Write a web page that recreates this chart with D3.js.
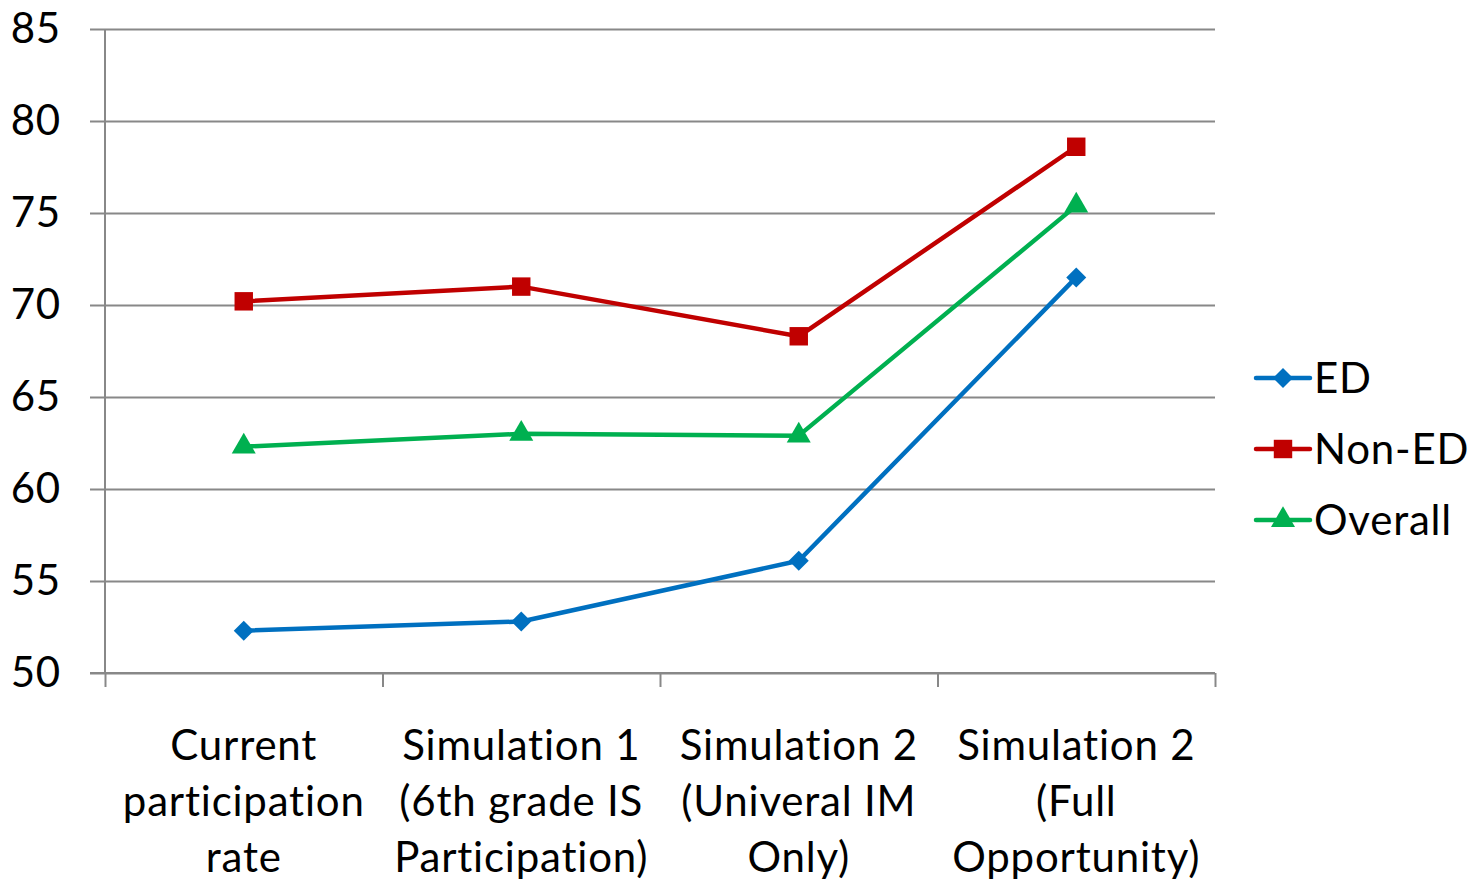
<!DOCTYPE html>
<html>
<head>
<meta charset="utf-8">
<script src="https://cdn.jsdelivr.net/npm/d3@7"></script>
<style>
  body { margin: 0; background: #fff; }
  svg text { font-family: "Gill Sans", "Gill Sans MT", Lato, "Open Sans", sans-serif; fill: #000; letter-spacing: 0.8px; }
</style>
</head>
<body>
<div id="vis_container"></div>
<script>
// chart data
var categories = [
	["Current", "participation", "rate"],
	["Simulation 1", "(6th grade IS", "Participation)"],
	["Simulation 2", "(Univeral IM", "Only)"],
	["Simulation 2", "(Full", "Opportunity)"]
];
var seriesNames = ["ED", "Non-ED", "Overall"];
var edValues = [52.3, 52.8, 56.1, 71.5];
var nonEdValues = [70.2, 71.0, 68.3, 78.6];
var overallValues = [62.3, 63.0, 62.9, 75.4];
var yTicks = [50, 55, 60, 65, 70, 75, 80, 85];

var chart = {};
chart.width = 1479;
chart.height = 884;
chart.left = 105;
chart.right = 1215;
chart.top = 29;
chart.bottom = 673;

chart.colors = ["#0070C0", "#C00000", "#00B050"];
chart.shapes = [d3.symbolSquare, d3.symbolSquare, d3.symbolTriangle];
chart.sizes = [200, 340, 250];
chart.rotate = [45, 0, 0];

var series = [edValues, nonEdValues, overallValues];

chart.svg = d3.select("#vis_container").append("svg")
	.attr("width", chart.width)
	.attr("height", chart.height);

chart.x = d3.scaleBand()
	.domain(d3.range(categories.length))
	.range([chart.left, chart.right]);

chart.y = d3.scaleLinear()
	.domain([50, 85])
	.range([chart.bottom, chart.top]);

// horizontal gridlines + left ticks
chart.svg.append("g")
	.attr("transform", "translate(" + chart.left + ",0)")
	.call(d3.axisLeft(chart.y).tickValues(yTicks).tickSize(15).tickPadding(29))
	.call(function(g) {
		g.select(".domain").remove();
		g.selectAll(".tick line").attr("x1", -15).attr("x2", chart.right - chart.left)
			.attr("stroke", "#888").attr("stroke-width", 2);
		g.selectAll(".tick text").attr("font-size", 42).attr("font-family", null);
	});

// y axis line
chart.svg.append("line")
	.attr("x1", chart.left).attr("x2", chart.left)
	.attr("y1", chart.top).attr("y2", chart.bottom)
	.attr("stroke", "#888").attr("stroke-width", 2);

// x axis with category separators
chart.svg.append("g")
	.attr("transform", "translate(0," + chart.bottom + ")")
	.call(d3.axisBottom(d3.scaleLinear().domain([0, categories.length]).range([chart.left, chart.right]))
		.tickValues(d3.range(categories.length + 1)).tickSize(14).tickFormat(""))
	.call(function(g) {
		g.select(".domain").attr("stroke", "#888").attr("stroke-width", 2).attr("d", "M" + (chart.left - 15) + ",0H" + chart.right);
		g.selectAll(".tick line").attr("stroke", "#888").attr("stroke-width", 2);
	});

// category labels
chart.svg.selectAll(".catLabel")
	.data(categories)
	.enter()
	.append("text")
		.attr("class", "catLabel")
		.attr("text-anchor", "middle")
		.attr("font-size", 42)
		.attr("transform", function(d, i) { return "translate(" + (chart.x(i) + chart.x.bandwidth() / 2) + ",760)"; })
		.selectAll("tspan")
		.data(function(d) { return d; })
		.enter()
		.append("tspan")
			.attr("x", 0)
			.attr("y", function(d, i) { return i * 56; })
			.text(function(d) { return d; });

// lines + markers
chart.line = d3.line()
	.x(function(d, i) { return chart.x(i) + chart.x.bandwidth() / 2; })
	.y(function(d) { return chart.y(d); });

series.forEach(function(vals, s) {
	chart.svg.append("path")
		.datum(vals)
		.attr("d", chart.line)
		.attr("fill", "none")
		.attr("stroke", chart.colors[s])
		.attr("stroke-width", 4.5)
		.attr("stroke-linejoin", "round");

	chart.svg.selectAll(".marker" + s)
		.data(vals)
		.enter()
		.append("path")
			.attr("class", "marker" + s)
			.attr("d", d3.symbol().type(chart.shapes[s]).size(chart.sizes[s]))
			.attr("transform", function(d, i) { return "translate(" + (chart.x(i) + chart.x.bandwidth() / 2) + "," + chart.y(d) + ") rotate(" + chart.rotate[s] + ")"; })
			.attr("fill", chart.colors[s]);
});

// legend
chart.legend = chart.svg.selectAll(".legendItem")
	.data(seriesNames)
	.enter()
	.append("g")
		.attr("class", "legendItem")
		.attr("transform", function(d, i) { return "translate(1256," + (378 + i * 71) + ")"; });

chart.legend.append("line")
	.attr("x1", 0).attr("x2", 54)
	.attr("stroke", function(d, i) { return chart.colors[i]; })
	.attr("stroke-width", 4.5)
	.attr("stroke-linecap", "round");

chart.legend.append("path")
	.attr("d", function(d, i) { return d3.symbol().type(chart.shapes[i]).size(chart.sizes[i])(); })
	.attr("transform", function(d, i) { return "translate(27,0) rotate(" + chart.rotate[i] + ")"; })
	.attr("fill", function(d, i) { return chart.colors[i]; });

chart.legend.append("text")
	.attr("x", 58)
	.attr("dy", "0.35em")
	.attr("font-size", 42)
	.text(function(d) { return d; });
</script>
</body>
</html>
